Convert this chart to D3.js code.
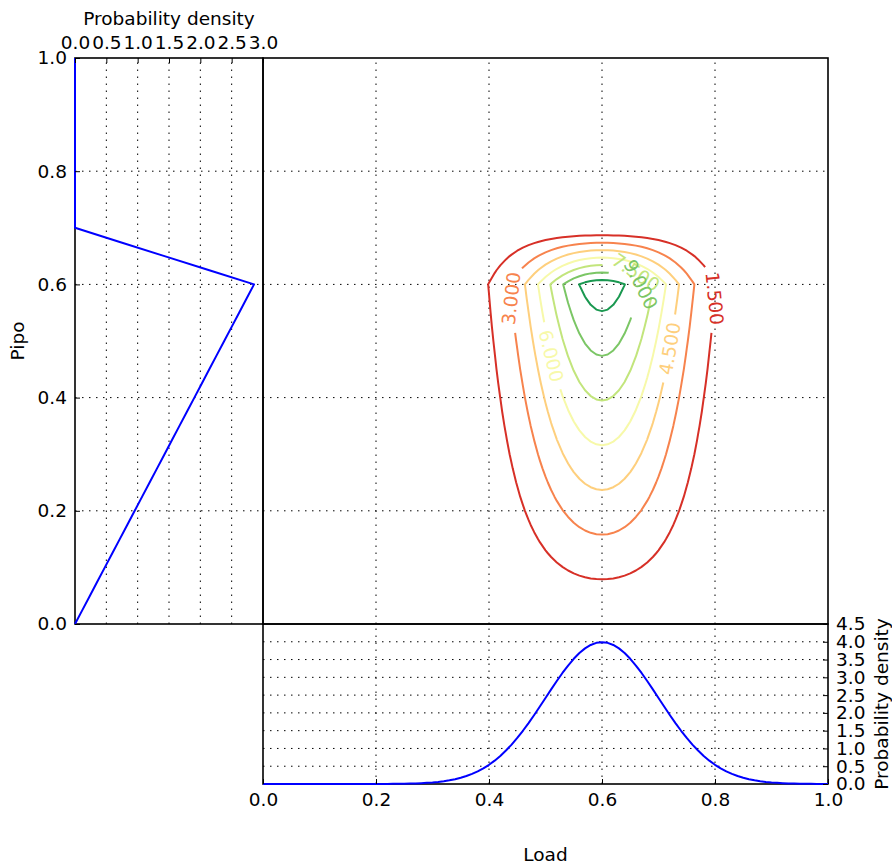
<!DOCTYPE html>
<html>
<head>
<meta charset="utf-8">
<script src="https://cdn.jsdelivr.net/npm/d3@7"></script>
<style>
  html, body { margin: 0; padding: 0; background: #fff; }
  svg text { font-family: "DejaVu Sans", sans-serif; font-size: 18.5px; fill: #000; }
</style>
</head>
<body>
<svg id="chart" width="892" height="868"></svg>
<script>
// ---- Data ---------------------------------------------------------------
// Marginal density of Load (normal, centred on 0.6), sampled every 0.01 on [0, 1]
const loadStep = 0.01;
const loadDensity = [
  0, 0, 0, 0, 0, 0, 0, 0, 0, 0, 0,
  0, 0, 0.0001, 0.0001, 0.0002, 0.0003, 0.0004, 0.0006, 0.0009, 0.0013,
  0.0020, 0.0029, 0.0042, 0.0061, 0.0087, 0.0123, 0.0172, 0.0238, 0.0327, 0.0443,
  0.0595, 0.0792, 0.1042, 0.1358, 0.1753, 0.2239, 0.2833, 0.3547, 0.4398, 0.5399,
  0.6562, 0.7895, 0.9405, 1.1092, 1.2952, 1.4973, 1.7137, 1.9419, 2.1785, 2.4197,
  2.6609, 2.8969, 3.1225, 3.3322, 3.5207, 3.6827, 3.8139, 3.9104, 3.9695, 3.9894,
  3.9695, 3.9104, 3.8139, 3.6827, 3.5207, 3.3322, 3.1225, 2.8969, 2.6609, 2.4197,
  2.1785, 1.9419, 1.7137, 1.4973, 1.2952, 1.1092, 0.9405, 0.7895, 0.6562, 0.5399,
  0.4398, 0.3547, 0.2833, 0.2239, 0.1753, 0.1358, 0.1042, 0.0792, 0.0595, 0.0443,
  0.0327, 0.0238, 0.0172, 0.0123, 0.0087, 0.0061, 0.0042, 0.0029, 0.0020, 0.0013
];

// Marginal density of Pipo (triangular, mode 0.6, upper bound 0.7), every 0.025 on [0, 1]
const pipoStep = 0.025;
const pipoDensity = [
  0, 0.1190, 0.2381, 0.3571, 0.4762, 0.5952, 0.7143, 0.8333, 0.9524, 1.0714,
  1.1905, 1.3095, 1.4286, 1.5476, 1.6667, 1.7857, 1.9048, 2.0238, 2.1429, 2.2619,
  2.3810, 2.5000, 2.6190, 2.7381, 2.8571, 2.1429, 1.4286, 0.7143, 0,
  0, 0, 0, 0, 0, 0, 0, 0, 0, 0, 0, 0
];

// Iso-density levels of the joint density
const contourLevels = [1.5, 3.0, 4.5, 6.0, 7.5, 9.0, 10.5];
const levelColors = ["#d73027", "#f7834d", "#fecf7d", "#f7f9a9", "#c2e57c", "#7bc665", "#1a9850"];

// Labelled levels and where their labels sit (Load, Pipo)
const labelLevels = [1.5, 3.0, 4.5, 6.0, 7.5, 9.0];
const labelLoad   = [0.80, 0.437, 0.72, 0.511, 0.664, 0.670];
const labelPipo   = [0.577, 0.58, 0.49, 0.47, 0.622, 0.59];

// Tick values
const loadTicks = [0.0, 0.2, 0.4, 0.6, 0.8, 1.0];
const pipoTicks = [0.0, 0.2, 0.4, 0.6, 0.8, 1.0];
const pipoDensityTicks = [0.0, 0.5, 1.0, 1.5, 2.0, 2.5, 3.0];
const loadDensityTicks = [0.0, 0.5, 1.0, 1.5, 2.0, 2.5, 3.0, 3.5, 4.0, 4.5];

// ---- Layout -------------------------------------------------------------
const X  = d3.scaleLinear([0, 1], [263, 828]);     // Load (main + bottom panel)
const Y  = d3.scaleLinear([0, 1], [624, 58]);      // Pipo (main + left panel)
const XL = d3.scaleLinear([0, 3], [75, 263]);      // Pipo density (left panel)
const YB = d3.scaleLinear([0, 4.5], [784, 624]);   // Load density (bottom panel)

const svg = d3.select("#chart");
const fmt1 = d3.format(".1f");
const fmt3 = d3.format(".3f");

// ---- Grids ---------------------------------------------------------------
const gridG = svg.append("g")
  .attr("stroke", "#000").attr("stroke-width", 1).attr("stroke-dasharray", "1.5,5.5");
const inner = (arr) => arr.slice(1, -1);

function vgrid(xs, scale, y0, y1) {
  gridG.selectAll(null).data(xs).enter().append("line")
    .attr("x1", d => scale(d)).attr("x2", d => scale(d))
    .attr("y1", y0).attr("y2", y1);
}
function hgrid(ys, scale, x0, x1) {
  gridG.selectAll(null).data(ys).enter().append("line")
    .attr("y1", d => scale(d)).attr("y2", d => scale(d))
    .attr("x1", x0).attr("x2", x1);
}
// main panel
vgrid(inner(loadTicks), X, Y(0), Y(1));
hgrid(inner(pipoTicks), Y, X(0), X(1));
// left panel
vgrid(inner(pipoDensityTicks), XL, Y(0), Y(1));
hgrid(inner(pipoTicks), Y, XL(0), XL(3));
// bottom panel
vgrid(inner(loadTicks), X, YB(0), YB(4.5));
hgrid(inner(loadDensityTicks), YB, X(0), X(1));

// ---- Joint density contours ---------------------------------------------
const nx = loadDensity.length, ny = pipoDensity.length;
const joint = new Array(nx * ny);
for (let j = 0; j < ny; j++)
  for (let i = 0; i < nx; i++)
    joint[j * nx + i] = loadDensity[i] * pipoDensity[j];

const contours = d3.contours().size([nx, ny]).thresholds(contourLevels)(joint);
const toPx = ([gx, gy]) => [X((gx - 0.5) * loadStep), Y((gy - 0.5) * pipoStep)];

const contourG = svg.append("g").attr("fill", "none").attr("stroke-width", 2)
  .attr("stroke-linejoin", "round");
const labelG = svg.append("g");

contours.forEach(c => {
  const k = contourLevels.indexOf(c.value);
  const color = levelColors[k];
  const rings = c.coordinates.flat().map(r => {
    let pts = r.map(toPx);
    const a = pts[0], b = pts[pts.length - 1];
    if (pts.length > 1 && Math.abs(a[0] - b[0]) < 1e-9 && Math.abs(a[1] - b[1]) < 1e-9) pts = pts.slice(0, -1);
    const cum = [0];
    for (let i = 1; i <= pts.length; i++) {
      const p = pts[i - 1], q = pts[i % pts.length];
      cum.push(cum[i - 1] + Math.hypot(q[0] - p[0], q[1] - p[1]));
    }
    return { pts, cum, L: cum[cum.length - 1] };
  });

  // label placement
  const li = labelLevels.indexOf(c.value);
  let best = null;
  if (li >= 0) {
    const tx = X(labelLoad[li]), ty = Y(labelPipo[li]);
    rings.forEach((r, ri) => r.pts.forEach((p, pi) => {
      const d = Math.hypot(p[0] - tx, p[1] - ty);
      if (!best || d < best.d) best = { d, ri, pi };
    }));
  }

  rings.forEach((r, ri) => {
    const path = contourG.append("path")
      .attr("d", "M" + r.pts.map(p => p[0] + "," + p[1]).join("L") + "Z")
      .attr("stroke", color);
    if (best && best.ri === ri) {
      const s0 = r.cum[best.pi];
      const text = labelG.append("text")
        .attr("text-anchor", "middle")
        .attr("dominant-baseline", "central")
        .style("fill", color)
        .text(fmt3(c.value));
      const w = text.node().getComputedTextLength();
      const h = w / 2 + 8;
      path.attr("stroke-dasharray", (r.L - 2 * h) + "," + (2 * h))
          .attr("stroke-dashoffset", -(s0 + h));
      const at = s => {
        s = ((s % r.L) + r.L) % r.L;
        let i = d3.bisectRight(r.cum, s) - 1;
        i = Math.max(0, Math.min(i, r.pts.length - 1));
        const p = r.pts[i], q = r.pts[(i + 1) % r.pts.length];
        const seg = r.cum[i + 1] - r.cum[i] || 1;
        const t = (s - r.cum[i]) / seg;
        return [p[0] + (q[0] - p[0]) * t, p[1] + (q[1] - p[1]) * t];
      };
      const p1 = at(s0 - h), p2 = at(s0 + h), pc = r.pts[best.pi];
      let ang = Math.atan2(p2[1] - p1[1], p2[0] - p1[0]) * 180 / Math.PI;
      if (ang > 90) ang -= 180;
      if (ang <= -90) ang += 180;
      text.attr("transform", `translate(${pc[0]},${pc[1]}) rotate(${ang})`);
    }
  });
});

// ---- Marginal curves ----------------------------------------------------
const curveG = svg.append("g").attr("fill", "none").attr("stroke", "#0000ff")
  .attr("stroke-width", 2).attr("stroke-linejoin", "round");

curveG.append("path")
  .datum(loadDensity)
  .attr("d", d3.line().x((d, i) => X(i * loadStep)).y(d => YB(d)));

curveG.append("path")
  .datum(pipoDensity)
  .attr("d", d3.line().x(d => XL(d)).y((d, j) => Y(j * pipoStep)));

// ---- Frames -------------------------------------------------------------
const frameG = svg.append("g").attr("fill", "none").attr("stroke", "#000").attr("stroke-width", 1.6);
frameG.append("rect").attr("x", XL(0)).attr("y", Y(1)).attr("width", XL(3) - XL(0)).attr("height", Y(0) - Y(1));
frameG.append("rect").attr("x", X(0)).attr("y", Y(1)).attr("width", X(1) - X(0)).attr("height", Y(0) - Y(1));
frameG.append("rect").attr("x", X(0)).attr("y", YB(4.5)).attr("width", X(1) - X(0)).attr("height", YB(0) - YB(4.5));

// keep the Pipo density line visible along the left frame
curveG.raise();

// ---- Axes ---------------------------------------------------------------
function styleAxis(g) {
  g.select(".domain").remove();
  g.selectAll(".tick line").attr("stroke", "#000").attr("stroke-width", 1);
  g.selectAll(".tick text").attr("font-family", null).attr("font-size", null);
  g.attr("font-family", null).attr("font-size", null);
}

svg.append("g").attr("transform", `translate(${XL(0)},0)`)
  .call(d3.axisLeft(Y).tickValues(pipoTicks).tickFormat(fmt1).tickSizeInner(-5).tickSizeOuter(0).tickPadding(8))
  .call(styleAxis);

svg.append("g").attr("transform", `translate(0,${Y(1)})`)
  .call(d3.axisTop(XL).tickValues(pipoDensityTicks).tickFormat(fmt1).tickSizeInner(-5).tickSizeOuter(0).tickPadding(9))
  .call(styleAxis);

svg.append("g").attr("transform", `translate(0,${YB(0)})`)
  .call(d3.axisBottom(X).tickValues(loadTicks).tickFormat(fmt1).tickSizeInner(-5).tickSizeOuter(0).tickPadding(9))
  .call(styleAxis);

svg.append("g").attr("transform", `translate(${X(1)},0)`)
  .call(d3.axisRight(YB).tickValues(loadDensityTicks).tickFormat(fmt1).tickSizeInner(-5).tickSizeOuter(0).tickPadding(8))
  .call(styleAxis);

// ---- Axis titles --------------------------------------------------------
svg.append("text").attr("x", (XL(0) + XL(3)) / 2).attr("y", 25)
  .attr("text-anchor", "middle").text("Probability density");
svg.append("text").attr("x", (X(0) + X(1)) / 2).attr("y", 861)
  .attr("text-anchor", "middle").text("Load");
svg.append("text").attr("transform", `translate(24,${(Y(0) + Y(1)) / 2}) rotate(-90)`)
  .attr("text-anchor", "middle").text("Pipo");
svg.append("text").attr("transform", `translate(888,${(YB(0) + YB(4.5)) / 2}) rotate(-90)`)
  .attr("text-anchor", "middle").text("Probability density");
</script>
</body>
</html>
